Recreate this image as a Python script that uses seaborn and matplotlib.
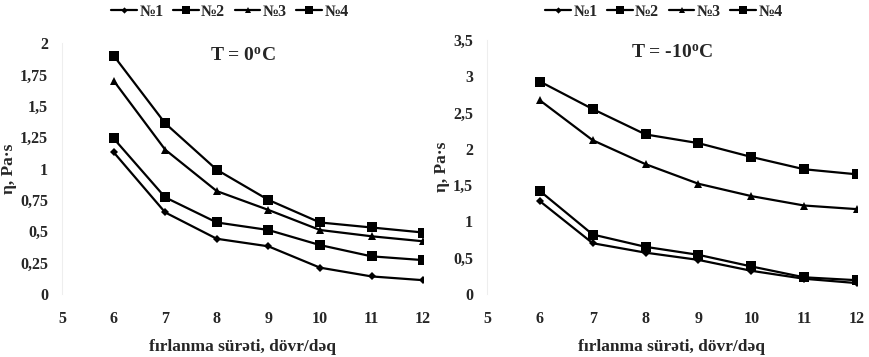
import matplotlib
matplotlib.use("Agg")
import matplotlib.pyplot as plt
import seaborn as sns
import pandas as pd

speed = [6, 7, 8, 9, 10, 11, 12]
series_names = ["№1", "№2", "№3", "№4"]

# T = 0 °C
t0_n1 = [1.13, 0.65, 0.44, 0.38, 0.21, 0.14, 0.11]
t0_n2 = [1.24, 0.77, 0.57, 0.51, 0.39, 0.30, 0.27]
t0_n3 = [1.70, 1.15, 0.82, 0.67, 0.51, 0.46, 0.42]
t0_n4 = [1.90, 1.36, 0.99, 0.75, 0.57, 0.53, 0.49]

# T = -10 °C
tm10_n1 = [1.28, 0.70, 0.57, 0.47, 0.32, 0.21, 0.15]
tm10_n2 = [1.42, 0.82, 0.65, 0.54, 0.38, 0.23, 0.19]
tm10_n3 = [2.67, 2.12, 1.79, 1.52, 1.35, 1.22, 1.17]
tm10_n4 = [2.93, 2.55, 2.20, 2.08, 1.89, 1.72, 1.65]

x_ticks = [5, 6, 7, 8, 9, 10, 11, 12]
y_ticks_left = [0, 0.25, 0.5, 0.75, 1, 1.25, 1.5, 1.75, 2]
y_ticks_right = [0, 0.5, 1, 1.5, 2, 2.5, 3, 3.5]

sns.set_theme(style="white")
plt.rcParams["font.family"] = ["Liberation Serif", "DejaVu Serif"]
plt.rcParams["font.weight"] = "bold"
plt.rcParams["mathtext.fontset"] = "custom"
plt.rcParams["mathtext.rm"] = "Liberation Serif:bold"
plt.rcParams["mathtext.it"] = "Liberation Serif:bold"
plt.rcParams["mathtext.bf"] = "Liberation Serif:bold"

markers = {"№1": ("D", 4), "№2": ("s", 7), "№3": ("^", 6), "№4": ("s", 7)}

fig = plt.figure(figsize=(8.7, 3.57), dpi=100)
ax1 = fig.add_axes([0.0713, 0.1765, 0.415, 0.703])
ax2 = fig.add_axes([0.5598, 0.1765, 0.4252, 0.711])


def fmt(v):
    return ("%g" % v).replace(".", ",")


def draw(ax, data, yticks, title, title_y, legend_x):
    for name, vals in zip(series_names, data):
        df = pd.DataFrame({"x": speed, "y": vals})
        m, ms = markers[name]
        sns.lineplot(data=df, x="x", y="y", ax=ax, color="black", lw=1.6,
                     marker=m, markersize=ms, markeredgewidth=0,
                     markerfacecolor="black", label=name, legend=False)
    ax.set_xlim(5, 12)
    ax.set_ylim(yticks[0], yticks[-1])
    ax.set_xticks(x_ticks)
    ax.set_xticklabels([str(v) for v in x_ticks], fontsize=11.5, fontweight="bold")
    ax.set_yticks(yticks)
    ax.set_yticklabels([fmt(v) for v in yticks], fontsize=11.5, fontweight="bold")
    ax.tick_params(axis="x", length=0, pad=12)
    ax.tick_params(axis="y", length=0, pad=10)
    for s in ["top", "right", "bottom"]:
        ax.spines[s].set_visible(False)
    ax.spines["left"].set_color("#eeeeee")
    ax.spines["left"].set_linewidth(0.8)
    ax.set_xlabel("fırlanma sürəti, dövr/dəq", fontsize=12.5, fontweight="bold", labelpad=9)
    ax.set_ylabel("η, Pa·s", fontsize=12.5, fontweight="bold", labelpad=2)
    ax.text(0.5, title_y, title, transform=ax.transAxes, ha="center", va="center",
            fontsize=14, fontweight="bold")
    ax.legend(loc="center", bbox_to_anchor=(legend_x, 1 - 12 / 357),
              bbox_transform=fig.transFigure, ncol=4,
              frameon=False, handlelength=1.6, handletextpad=0.15,
              columnspacing=0.6, markerscale=0.8, borderpad=0,
              prop={"weight": "bold", "size": 11.5})


draw(ax1, [t0_n1, t0_n2, t0_n3, t0_n4], y_ticks_left, "T = 0$^{\\mathrm{o}}$C", 0.95, 230 / 870)
draw(ax2, [tm10_n1, tm10_n2, tm10_n3, tm10_n4], y_ticks_right, "T = -10$^{\\mathrm{o}}$C", 0.95, 664 / 870)

fig.savefig("out.png", dpi=100)
